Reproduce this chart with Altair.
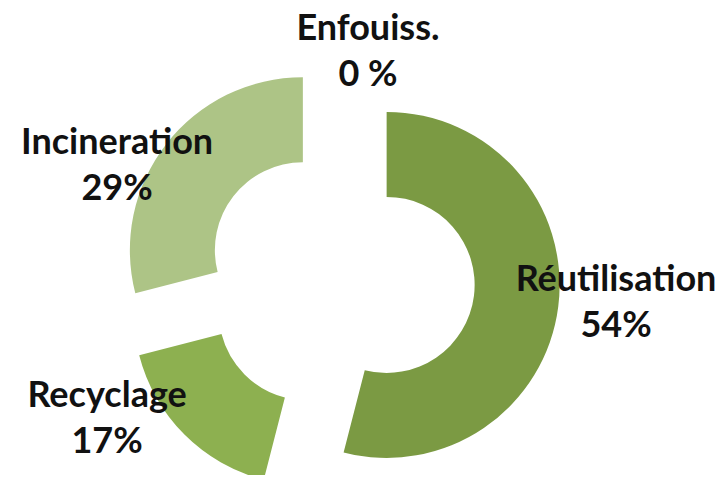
import math
import altair as alt
import pandas as pd

# ---- data ----
categories = ["Réutilisation", "Recyclage", "Incineration", "Enfouiss."]
values = [54, 17, 29, 0]
pct_labels = ["54%", "17%", "29%", "0 %"]
colors = ["#7B9A43", "#8DB050", "#ADC486", "#D0DDB5"]

df = pd.DataFrame({
    "cat": categories,
    "value": values,
    "order": list(range(len(categories))),
    "label": [f"{c}\n{p}" for c, p in zip(categories, pct_labels)],
})

# ---- layout / style ----
W, H = 707, 467
CX, CY = 332, 271          # donut centre inside the plot area
EXPLODE = 47               # slice explosion distance
R_OUT, R_IN = 173, 88
LABEL_R = 253
FONT = "Lato"
FSIZE = 36
NUDGE = {"Réutilisation": (25, -31), "Incineration": (-23, 19),
         "Recyclage": (-54, -62), "Enfouiss.": (28, 3)}

xs = alt.Scale(domain=[-CX, W - CX], range=[0, W])
ys = alt.Scale(domain=[-CY, H - CY], range=[0, H])

base = alt.Chart(df).transform_window(
    cum="sum(value)", sort=[alt.SortField("order")], frame=[None, 0]
).transform_calculate(
    start="datum.cum - datum.value",
    mid="(datum.cum - datum.value / 2) / 100 * 2 * PI",
).transform_calculate(
    ox=f"{EXPLODE} * sin(datum.mid)",
    oy=f"-{EXPLODE} * cos(datum.mid)",
    lx=f"{LABEL_R} * sin(datum.mid)",
    ly=f"-{LABEL_R} * cos(datum.mid)",
)

arcs = base.mark_arc(innerRadius=R_IN, outerRadius=R_OUT).encode(
    x=alt.X("ox:Q", scale=xs, axis=None),
    y=alt.Y("oy:Q", scale=ys, axis=None),
    theta=alt.Theta("start:Q", scale=alt.Scale(domain=[0, 100], range=[0, 2 * math.pi])),
    theta2="cum:Q",
    color=alt.Color("cat:N", scale=alt.Scale(domain=categories, range=colors), legend=None),
)

texts = []
for c in categories:
    dx, dy = NUDGE[c]
    t = base.transform_filter(alt.datum.cat == c).mark_text(
        font=FONT, fontSize=FSIZE, fontWeight="bold", color="#111111",
        lineBreak="\n", lineHeight=46, align="center", baseline="middle",
        dx=dx, dy=dy,
    ).encode(
        x=alt.X("lx:Q", scale=xs, axis=None),
        y=alt.Y("ly:Q", scale=ys, axis=None),
        text="label:N",
    )
    texts.append(t)

chart = alt.layer(arcs, *texts).properties(
    width=W, height=H, padding=0, autosize="none", background="white"
).configure_view(stroke=None)

chart.save("out.html", embed_options={"renderer": "svg", "actions": False})
